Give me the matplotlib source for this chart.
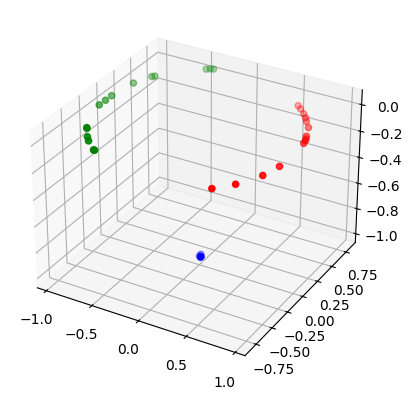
import matplotlib
matplotlib.use("Agg")
import matplotlib.pyplot as plt

red_x = [0.60, 0.65, 0.72, 0.77, 0.81, 0.88, 0.94, 0.96, 0.97, 0.98, 0.99, 0.94, 0.81, 0.67]
red_y = [0.66, 0.62, 0.56, 0.51, 0.46, 0.38, 0.25, 0.21, 0.18, 0.14, -0.26, -0.44, -0.65, -0.79]
red_z = [0.0] * 14

green_x = [-0.51, -0.48, -0.45, -0.88, -0.86, -0.96, -1.0, -1.0, -1.0, -0.86, -0.85, -0.76, -0.71, -0.58, -0.57]
green_y = [0.85, 0.87, 0.88, 0.52, 0.54, 0.35, 0.08, -0.01, -0.10, -0.46, -0.47, -0.58, -0.63, -0.73, -0.73]
green_z = [0.0] * 15

blue_x = [0.02, 0.0, 0.02, 0.01]
blue_y = [0.0, 0.0, -0.01, 0.01]
blue_z = [-1.0, -1.0, -1.0, -0.99]

fig = plt.figure()
ax = fig.add_subplot(projection="3d")
ax.scatter(red_x, red_y, red_z, c="r")
ax.scatter(green_x, green_y, green_z, c="g")
ax.scatter(blue_x, blue_y, blue_z, c="b")
ax.set_xlim(-1.1, 1.1)
ax.set_ylim(-0.92, 0.92)
ax.set_zlim(-1.07, 0.11)
fig.savefig("out.png", dpi=100, bbox_inches="tight", pad_inches=0.095)
